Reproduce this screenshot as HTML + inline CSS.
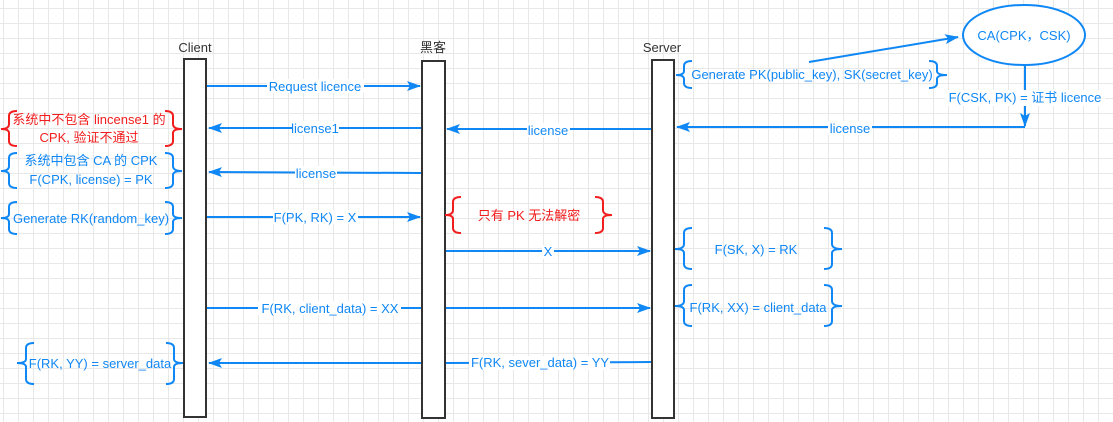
<!DOCTYPE html>
<html><head><meta charset="utf-8"><style>
html,body{margin:0;padding:0;background:#fff}
svg{display:block}
text{font-family:"Liberation Sans","Noto Sans CJK SC",sans-serif;font-size:13px}
.b{fill:#0f87f5}.r{fill:#f21d1d}
.k{fill:#333;font-size:13px}
</style></head><body>
<svg width="1113" height="422" viewBox="0 0 1113 422" xmlns="http://www.w3.org/2000/svg">
<defs>
<pattern id="g" x="3" y="8" width="15" height="15" patternUnits="userSpaceOnUse">
<path d="M0,0.5H15M0.5,0V15" stroke="#e8e8e8" stroke-width="1" fill="none"/>
</pattern>
<marker id="a" markerWidth="14" markerHeight="10" refX="13" refY="5" orient="auto" markerUnits="userSpaceOnUse">
<path d="M0,0L14,5L0,10L3,5Z" fill="#0f87f5"/>
</marker>
</defs>
<rect width="1113" height="422" fill="url(#g)"/>

<g fill="#fff" stroke="#333" stroke-width="2">
<rect x="184" y="59" width="22" height="358"/>
<rect x="422" y="61" width="23" height="357"/>
<rect x="652" y="60" width="22" height="358"/>
</g>
<text class="k" x="195" y="52" text-anchor="middle">Client</text>
<text class="k" x="433" y="52" text-anchor="middle">黑客</text>
<text class="k" x="662" y="52" text-anchor="middle">Server</text>

<g stroke="#0f87f5" stroke-width="2" fill="none">
<line x1="207" y1="86" x2="420" y2="86" marker-end="url(#a)"/>
<line x1="421" y1="128" x2="209" y2="128" marker-end="url(#a)"/>
<line x1="651" y1="129" x2="447" y2="129" marker-end="url(#a)"/>
<line x1="1025" y1="127" x2="677" y2="127" marker-end="url(#a)"/>
<line x1="421" y1="173" x2="209" y2="172" marker-end="url(#a)"/>
<line x1="207" y1="217" x2="420" y2="217" marker-end="url(#a)"/>
<line x1="446" y1="251" x2="650" y2="251" marker-end="url(#a)"/>
<line x1="207" y1="308" x2="421" y2="308"/>
<line x1="446" y1="308" x2="650" y2="308" marker-end="url(#a)"/>
<line x1="651" y1="362" x2="446" y2="363"/>
<line x1="421" y1="363" x2="209" y2="363" marker-end="url(#a)"/>
<line x1="809" y1="62" x2="958" y2="37" marker-end="url(#a)"/>
<line x1="1025" y1="66" x2="1025" y2="126" marker-end="url(#a)"/>
<ellipse cx="1024" cy="35" rx="61" ry="30" fill="#fff"/>
</g>

<g stroke="#0f87f5" stroke-width="2" fill="none">
<path d="M692,61Q684,61 684,66V71Q684,75 676,75Q684,75 684,79V83Q684,88 692,88"/>
<path d="M929,61Q937,61 937,66V71Q937,75 947,75Q937,75 937,79V83Q937,88 929,88"/>
<path d="M17,153Q9,153 9,158V166Q9,171 1,171Q9,171 9,175V183Q9,188 17,188"/>
<path d="M165,153Q173,153 173,158V166Q173,171 182,171Q173,171 173,175V183Q173,188 165,188"/>
<path d="M17,202Q9,202 9,207V214Q9,218 1,218Q9,218 9,222V229Q9,234 17,234"/>
<path d="M165,202Q173,202 173,207V214Q173,218 182,218Q173,218 173,222V229Q173,234 165,234"/>
<path d="M34,343Q26,343 26,348V359Q26,363 17,363Q26,363 26,367V379Q26,384 34,384"/>
<path d="M166,343Q174,343 174,348V359Q174,363 183,363Q174,363 174,367V379Q174,384 166,384"/>
<path d="M692,228Q684,228 684,233V244Q684,249 675,249Q684,249 684,253V264Q684,269 692,269"/>
<path d="M824,228Q832,228 832,233V244Q832,249 842,249Q832,249 832,253V264Q832,269 824,269"/>
<path d="M692,285Q684,285 684,290V301Q684,306 675,306Q684,306 684,310V321Q684,326 692,326"/>
<path d="M824,285Q832,285 832,290V301Q832,306 842,306Q832,306 832,310V321Q832,326 824,326"/>
</g>
<g stroke="#f21d1d" stroke-width="2" fill="none">
<path d="M17,111Q9,111 9,116V124Q9,129 1,129Q9,129 9,133V141Q9,146 17,146"/>
<path d="M165,111Q173,111 173,116V124Q173,129 182,129Q173,129 173,133V141Q173,146 165,146"/>
<path d="M461,197Q453,197 453,202V210Q453,215 445,215Q453,215 453,219V228Q453,233 461,233"/>
<path d="M595,197Q603,197 603,202V210Q603,215 612,215Q603,215 603,219V228Q603,233 595,233"/>
</g>

<g fill="#fff">
<rect x="267" y="79" width="97" height="14"/>
<rect x="292" y="121" width="47" height="14"/>
<rect x="527" y="123" width="43" height="14"/>
<rect x="828" y="121" width="44" height="14"/>
<rect x="295" y="166" width="42" height="14"/>
<rect x="273" y="210" width="85" height="14"/>
<rect x="542" y="245" width="12" height="14"/>
<rect x="258" y="301" width="143" height="14"/>
<rect x="469" y="356" width="141" height="14"/>
<rect x="945" y="90" width="160" height="16"/>
</g>
<g text-anchor="middle">
<text x="315" y="91" class="b">Request licence</text>
<text x="315" y="133" class="b">license1</text>
<text x="548" y="135" class="b">license</text>
<text x="850" y="133" class="b">license</text>
<text x="316" y="178" class="b">license</text>
<text x="315" y="222" class="b">F(PK, RK) = X</text>
<text x="548" y="256" class="b">X</text>
<text x="330" y="313" class="b">F(RK, client_data) = XX</text>
<text x="540" y="367" class="b">F(RK, sever_data) = YY</text>
<text x="1025" y="102" class="b">F(CSK, PK) = 证书 licence</text>
<text x="1024" y="40" class="b">CA(CPK，CSK)</text>
<text x="812" y="79" class="b">Generate PK(public_key), SK(secret_key)</text>
<text x="91" y="165" class="b">系统中包含 CA 的 CPK</text>
<text x="91" y="184" class="b">F(CPK, license) = PK</text>
<text x="91" y="223" class="b">Generate RK(random_key)</text>
<text x="100" y="368" class="b">F(RK, YY) = server_data</text>
<text x="756" y="254" class="b">F(SK, X) = RK</text>
<text x="758" y="312" class="b">F(RK, XX) = client_data</text>
<text x="89" y="124" class="r">系统中不包含 lincense1 的</text>
<text x="89" y="142" class="r">CPK, 验证不通过</text>
<text x="529" y="220" class="r">只有 PK 无法解密</text>
</g>
</svg>
</body></html>
